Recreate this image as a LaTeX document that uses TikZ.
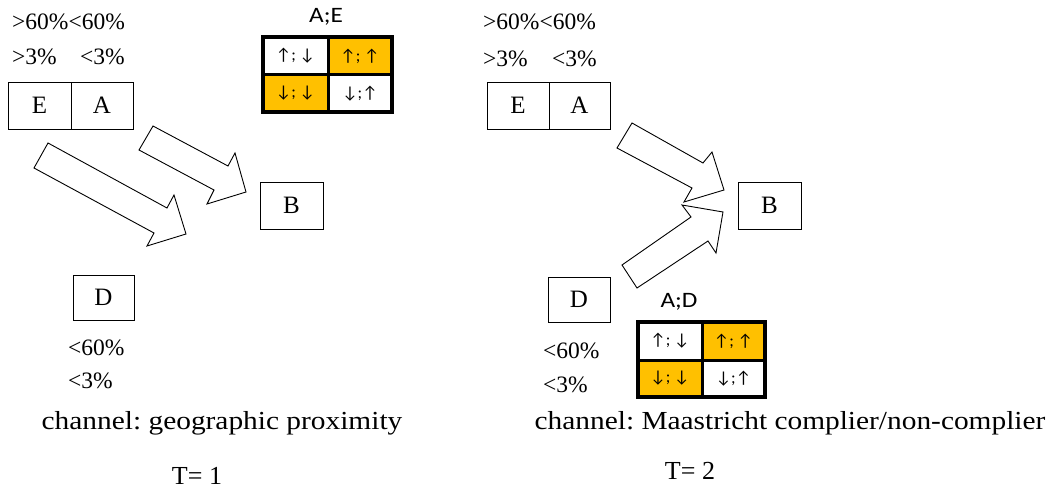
\documentclass[tikz,border=0pt]{standalone}
\usepackage{fontspec}
\setmainfont{Liberation Serif}
\newfontfamily\lblfont{Carlito}
\definecolor{gold}{RGB}{255,192,0}
\frenchspacing
\begin{document}
\begin{tikzpicture}[x=1pt,y=-1pt,
  txt/.style={inner sep=0pt,font=\fontsize{23.5}{25}\selectfont},
  bigtxt/.style={inner sep=0pt,font=\fontsize{26}{28}\selectfont},
  boxn/.style={draw,line width=0.8pt,minimum width=62pt,minimum height=47pt,inner sep=0pt,font=\fontsize{25}{27}\selectfont},
  lbl/.style={inner sep=0pt,font=\lblfont\fontsize{22}{24}\selectfont},
  cell/.style={inner sep=0pt,font=\lblfont\fontsize{17}{19}\selectfont},
  blockarrow/.style={draw,line width=0.9pt,fill=white,line join=miter}]
\useasboundingbox (0,0) rectangle (1053,492);

% ---------- left panel ----------
\node[txt,anchor=west] (l60) at (12,22) {>60\%<60\%};
\node[txt,anchor=west] (l3a) at (12,57) {>3\%};
\node[txt,anchor=west] (l3b) at (80,57) {<3\%};
\node[boxn,minimum width=63pt] (lE) at (39.5,105.5) {E};
\node[boxn,minimum width=62pt] (lA) at (102,105.5) {A};
\node[boxn,minimum width=63pt] (lB) at (291.5,205.5) {B};
\node[boxn,minimum width=61pt,minimum height=45pt] (lD) at (103.5,297.5) {D};
\node[txt,anchor=west] (ld60) at (68,348) {<60\%};
\node[txt,anchor=west] (ld3) at (68,381) {<3\%};
\node[bigtxt] (lch) at (222,423) {\scalebox{1.13}[1]{channel: geographic proximity}};
\node[bigtxt] (lT) at (197,476) {T= 1};

\draw[blockarrow] (153,126) -- (228,166) -- (235,153) -- (246,192) -- (207,204) -- (214,190) -- (139,150) -- cycle;
\draw[blockarrow] (48,143) -- (167,208) -- (174,195) -- (186,234) -- (147,246) -- (154,233) -- (34,168) -- cycle;

% A;E table
\node[lbl] (tAE) at (326,17) {\scalebox{1.15}[1]{A;E}};
\fill[white] (263,37) rectangle (328,75);
\fill[gold] (328,37) rectangle (392,75);
\fill[gold] (263,75) rectangle (328,112);
\fill[white] (328,75) rectangle (392,112);
\draw[line width=4pt] (263,37) rectangle (392,112);
\draw[line width=3pt] (328,37) -- (328,112) (263,75) -- (392,75);
\node[cell] (c11) at (295.5,56) {↑; ↓};
\node[cell] (c12) at (360,56) {↑; ↑};
\node[cell] (c21) at (295.5,93.5) {↓; ↓};
\node[cell] (c22) at (360,93.5) {↓;↑};

% ---------- right panel ----------
\node[txt,anchor=west] (r60) at (483,22) {>60\%<60\%};
\node[txt,anchor=west] (r3a) at (483,59) {>3\%};
\node[txt,anchor=west] (r3b) at (552,59) {<3\%};
\node[boxn,minimum width=62pt] (rE) at (518,105.5) {E};
\node[boxn,minimum width=61pt] (rA) at (579.5,105.5) {A};
\node[boxn,minimum width=63pt] (rB) at (769.5,205.5) {B};
\node[boxn,minimum width=62pt,minimum height=45pt] (rD) at (579,299.5) {D};
\node[txt,anchor=west] (rd60) at (543,351) {<60\%};
\node[txt,anchor=west] (rd3) at (543,385) {<3\%};
\node[bigtxt] (rch) at (790,423) {\scalebox{1.13}[1]{channel: Maastricht complier/non-complier}};
\node[bigtxt] (rT) at (690,471) {T= 2};

\draw[blockarrow] (632,123) -- (703,163) -- (712,152) -- (724,190) -- (684,202) -- (692,188) -- (617,148) -- cycle;
\draw[blockarrow] (622,265) -- (691,217) -- (682,205) -- (723,212) -- (716,253) -- (708,241) -- (637,288) -- cycle;

% A;D table
\node[lbl] (tAD) at (679,302) {\scalebox{1.15}[1]{A;D}};
\fill[white] (638,322) rectangle (702,360);
\fill[gold] (702,322) rectangle (765,360);
\fill[gold] (638,360) rectangle (702,397);
\fill[white] (702,360) rectangle (765,397);
\draw[line width=4pt] (638,322) rectangle (765,397);
\draw[line width=3pt] (702,322) -- (702,397) (638,360) -- (765,360);
\node[cell] (d11) at (670,341) {↑; ↓};
\node[cell] (d12) at (733.5,341) {↑; ↑};
\node[cell] (d21) at (670,378.5) {↓; ↓};
\node[cell] (d22) at (733.5,378.5) {↓;↑};
\end{tikzpicture}
\end{document}
